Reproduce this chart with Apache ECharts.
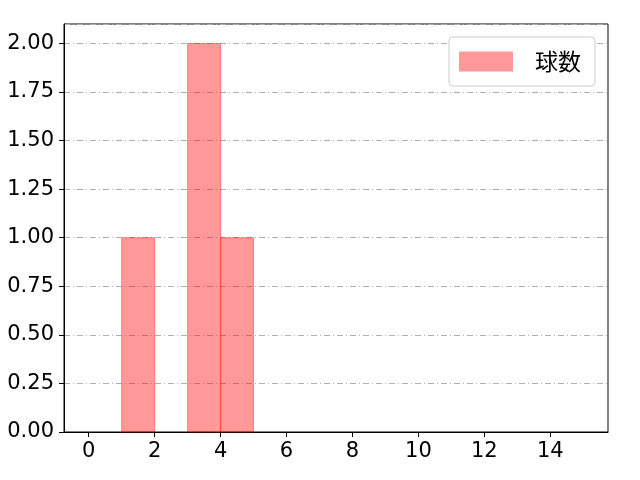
<!DOCTYPE html>
<html lang="ja">
<head>
    <meta charset="utf-8">
    <title>球数</title>
    <script src="https://cdn.jsdelivr.net/npm/echarts@6/dist/echarts.min.js"></script>
    <style>
        html, body { margin: 0; padding: 0; background: #fff; }
        #main { width: 640px; height: 480px; }
    </style>
</head>
<body>
    <div id="main"></div>
    <script>
        // ヒストグラムのビン（幅1）と度数
        var binStarts = [0, 1, 2, 3, 4, 5, 6, 7, 8, 9, 10, 11, 12, 13, 14];
        var binWidth = 1;
        var counts = [0, 1, 0, 2, 1, 0, 0, 0, 0, 0, 0, 0, 0, 0, 0];
        var xTicks = [0, 2, 4, 6, 8, 10, 12, 14];
        var seriesName = '球数';

        var NUMFONT = '"DejaVu Sans", sans-serif';
        var CJKFONT = '"Noto Sans CJK JP", sans-serif';
        var myChart = echarts.init(document.getElementById('main'));

        var binData = binStarts.map(function (s, i) {
            return [s, s + binWidth, counts[i]];
        });

        var option = {
            animation: false,
            grid: {
                left: 64, right: 32, top: 24, bottom: 48,
                show: true,
                borderColor: '#000',
                borderWidth: 1
            },
            legend: {
                data: [{ name: seriesName, icon: 'rect' }],
                right: 45, top: 37,
                orient: 'vertical',
                padding: [13, 14, 13, 10],
                itemWidth: 54, itemHeight: 20,
                itemGap: 0,
                borderColor: '#cccccc',
                borderWidth: 1,
                borderRadius: 4,
                backgroundColor: '#fff',
                textStyle: { fontFamily: CJKFONT, fontSize: 23, color: '#000', padding: [0, 0, 0, 17] }
            },
            xAxis: {
                type: 'value',
                min: -0.75, max: 15.75,
                splitLine: { show: false },
                axisLine: { show: true, onZero: false, lineStyle: { color: '#000' } },
                axisTick: { show: true, length: 5, customValues: xTicks, lineStyle: { color: '#000' } },
                axisLabel: { customValues: xTicks, fontFamily: NUMFONT, fontSize: 21, color: '#000', margin: 9 }
            },
            yAxis: {
                type: 'value',
                min: 0, max: 2.1, interval: 0.25,
                axisLine: { show: true, onZero: false, lineStyle: { color: '#000' } },
                axisTick: { show: true, length: 5, lineStyle: { color: '#000' } },
                axisLabel: {
                    fontFamily: NUMFONT, fontSize: 21, color: '#000', margin: 10,
                    showMaxLabel: false,
                    formatter: function (v) { return v.toFixed(2); }
                },
                splitLine: {
                    show: true,
                    lineStyle: { color: '#b0b0b0', width: 1, type: [6, 3, 1, 3] }
                }
            },
            series: [{
                name: seriesName,
                type: 'custom',
                itemStyle: { color: 'rgba(255,0,0,0.4)', borderColor: 'rgba(255,0,0,0.4)' },
                renderItem: function (params, api) {
                    var h = api.value(2);
                    if (!h) return null;
                    var p0 = api.coord([api.value(0), 0]);
                    var p1 = api.coord([api.value(1), h]);
                    return {
                        type: 'rect',
                        shape: { x: p0[0], y: p1[1], width: p1[0] - p0[0], height: p0[1] - p1[1] },
                        style: { fill: 'rgba(255,0,0,0.4)', stroke: 'rgba(255,0,0,0.4)', lineWidth: 1 }
                    };
                },
                encode: { x: [0, 1], y: 2 },
                data: binData
            }]
        };

        myChart.setOption(option);
    </script>
</body>
</html>
